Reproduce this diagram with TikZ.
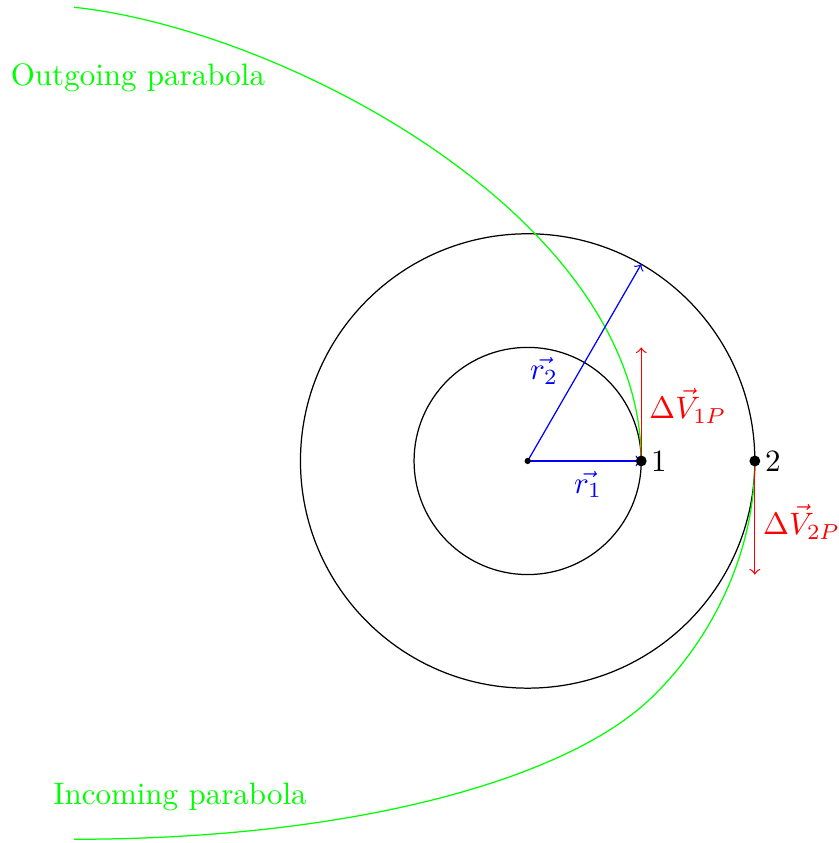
\documentclass[tikz,border=0pt]{standalone}
\begin{document}
\begin{tikzpicture}[x=0.644cm,y=0.644cm,
  orbit/.style={draw=black},
  traj/.style={draw=green},
  rvec/.style={draw=blue,->},
  dv/.style={draw=red,->},
  lbl/.style={inner sep=0pt},
  dot/.style={circle,fill=black,inner sep=0pt}]
\useasboundingbox (-9.290,-6.726) rectangle (5.481,8.116);
\coordinate (O) at (0,0);
\coordinate (p1) at (2,0);
\coordinate (p2) at (4,0);
\coordinate (r2end) at (60:4);
\coordinate (v1end) at (2,2);
\coordinate (v2end) at (4,-2);
\coordinate (oend) at (-7.988,7.988);
\coordinate (J) at (2.128,-4.217);
\coordinate (iend) at (-7.988,-6.660);
\draw[orbit] (O) circle (2);
\draw[orbit] (O) circle (4);
% outgoing
\draw[traj] (p1) .. controls (2,4.3) and (-4.308,7.601) .. (oend);
% incoming
\draw[traj] (p2) .. controls (4,-1.8) and (3.079,-3.330) .. (J)
  .. controls (0.665,-5.581) and (-2.988,-6.660) .. (iend);
\draw[rvec] (O) -- (p1);
\draw[rvec] (O) -- (r2end);
\draw[dv] (p1) -- (v1end);
\draw[dv] (p2) -- (v2end);
\node[dot,minimum size=2pt] (c) at (O) {};
\node[dot,minimum size=3.5pt] (d1) at (p1) {};
\node[dot,minimum size=3.5pt] (d2) at (p2) {};
\node[lbl,text=blue] (r1l) at (1.062,-0.410) {$\vec{r_1}$};
\node[lbl,text=blue] (r2l) at (0.290,1.588) {$\vec{r_2}$};
\node[lbl,text=red] (v1l) at (2.822,0.972) {$\Delta\vec{V}_{1P}$};
\node[lbl,text=red] (v2l) at (4.824,-1.070) {$\Delta\vec{V}_{2P}$};
\node[lbl] (l1) at (2.312,0) {1};
\node[lbl] (l2) at (4.319,0) {2};
\node[lbl,text=green] (out) at (-6.861,6.750) {Outgoing parabola};
\node[lbl,text=green] (inc) at (-6.121,-5.908) {Incoming parabola};
\end{tikzpicture}
\end{document}
